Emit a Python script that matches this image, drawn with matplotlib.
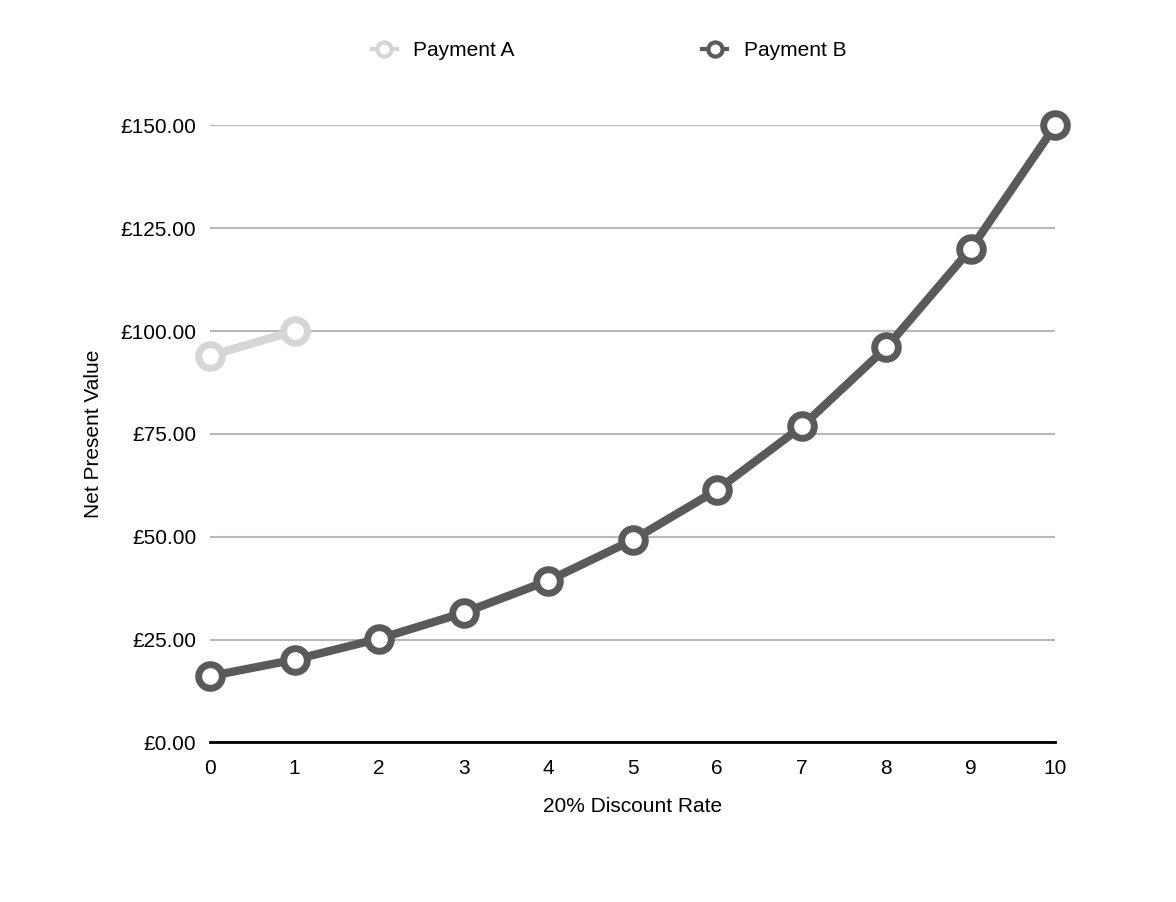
import matplotlib
matplotlib.use("Agg")
import matplotlib.pyplot as plt
from matplotlib.ticker import FuncFormatter

plt.rcParams['font.family'] = ['Liberation Sans', 'DejaVu Sans']

years = list(range(11))
payment_a_x = [0, 1]
payment_a = [94.0, 100.0]
payment_b = [16.1, 20.1, 25.2, 31.5, 39.3, 49.2, 61.4, 76.8, 96.0, 120.0, 150.0]
yticks = [0, 25, 50, 75, 100, 125, 150]

fig = plt.figure(figsize=(11.76, 9.02), dpi=100)
ax = fig.add_axes([0.1786, 0.177, 0.8975 - 0.1786, 0.861 - 0.177])

style = dict(linewidth=6, marker='o', markersize=17, markerfacecolor='white',
             markeredgewidth=5, clip_on=False, zorder=3)
ax.plot(payment_a_x, payment_a, color='#d6d6d6', label='Payment A', **style)
ax.plot(years, payment_b, color='#5a5a5a', label='Payment B', **style)

ax.set_xlim(0, 10)
ax.set_ylim(0, 150)
ax.set_xticks(years)
ax.set_yticks(yticks)
ax.yaxis.set_major_formatter(FuncFormatter(lambda v, p: f'£{v:.2f}'))
ax.grid(axis='y', color='#b8b8b8', linewidth=1.5)
ax.set_axisbelow(True)
for s in ['top', 'right', 'left']:
    ax.spines[s].set_visible(False)
ax.spines['bottom'].set_linewidth(2)
ax.tick_params(axis='both', length=0, labelsize=15, pad=10)
ax.tick_params(axis='x', pad=12)
ax.set_xlabel('20% Discount Rate', fontsize=15, labelpad=14)
ax.set_ylabel('Net Present Value', fontsize=15, labelpad=12)

leg = fig.legend(loc='upper center', bbox_to_anchor=(0.518, 0.975), ncol=2,
                 frameon=False, fontsize=15, columnspacing=9, handlelength=1.2,
                 markerscale=0.6)
for h in leg.legend_handles:
    h.set_linewidth(3)
    h.set_markeredgewidth(3)

fig.savefig('out.png', dpi=100)
